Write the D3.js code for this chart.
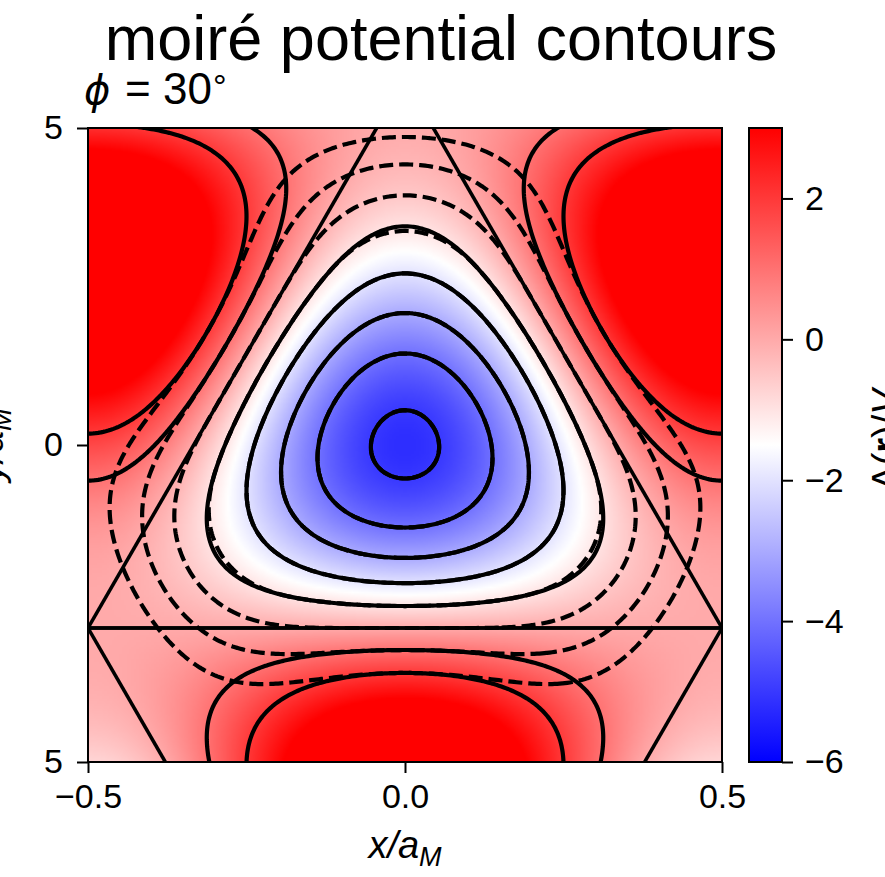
<!DOCTYPE html>
<html>
<head>
<meta charset="utf-8">
<script src="https://cdn.jsdelivr.net/npm/d3@7"></script>
<style>
body { margin: 0; background: #fff; }
svg { display: block; }
text { font-family: "Liberation Sans", Arial, sans-serif; fill: #000; }
</style>
</head>
<body>
<div id="chart"></div>
<script>
// moire potential, Delta(r) = -2V sum_j cos(G_j . r + phi), lattice constant a_M = 1
const phiDeg = 30
const V = 1
const gAngles = [90, 210, 330]
const solidLevels = [-5, -4, -3, -2, -1, 1, 2]
const dashedLevels = [-5, -4, -3, -2, -1, 0, 1, 2]
const colorDomain = [-6, 3]
const colorRange = ["#0000ff", "#ffffff", "#ff0000"]
const cbTicks = [-6, -4, -2, 0, 2]
const xTicks = [-0.5, 0, 0.5]
const yTicks = [-0.5, 0, 0.5]
// zero contour = lattice lines through the K corners
const kAnchors = [[-0.5, -0.5 / Math.sqrt(3)], [0.5, -0.5 / Math.sqrt(3)]]
const lineAngles = [0, 60, 120]
// dashed set: potential lifted away from the centre, towards the K corners
const liftScale = 60
const liftStart = 0.3

const W = 885, H = 877
const plot = { left: 88, right: 722, top: 128, bottom: 762 }
const cb = { left: 749, right: 782 }

const svg = d3.select("#chart")
    .append("svg")
    .attr("width", W)
    .attr("height", H)

const x = d3.scaleLinear().domain([-0.5, 0.5]).range([plot.left, plot.right])
const y = d3.scaleLinear().domain([-0.5, 0.5]).range([plot.bottom, plot.top])

const color = d3.scaleLinear()
    .domain([colorDomain[0], (colorDomain[0] + colorDomain[1]) / 2, colorDomain[1]])
    .range(colorRange)
    .clamp(true)

const gLen = 4 * Math.PI / Math.sqrt(3)
const phi = phiDeg * Math.PI / 180
const gVecs = gAngles.map(a => [gLen * Math.cos(a * Math.PI / 180), gLen * Math.sin(a * Math.PI / 180)])

function potential(px, py) {
    let s = 0
    gVecs.forEach(g => { s += Math.cos(g[0] * px + g[1] * py + phi) })
    return -2 * V * s
}

function lift(px, py) {
    const r = Math.sqrt(px * px + py * py)
    if (r <= liftStart) return 0
    const b = Math.atan2(py, px)
    return liftScale * (r - liftStart) * (r - liftStart) * (1 - Math.sin(3 * b)) / 2
}

// clip regions
const defs = svg.append("defs")
defs.append("clipPath").attr("id", "plotClip")
    .append("rect")
    .attr("x", plot.left).attr("y", plot.top)
    .attr("width", plot.right - plot.left).attr("height", plot.bottom - plot.top)
defs.append("clipPath").attr("id", "ytickClip")
    .append("rect")
    .attr("x", 45 - plot.left).attr("y", -60).attr("width", 60).attr("height", 120)

// heat map
const nImg = 256
const canvas = document.createElement("canvas")
canvas.width = nImg
canvas.height = nImg
const ctx = canvas.getContext("2d")
const img = ctx.createImageData(nImg, nImg)
for (let j = 0; j < nImg; j++) {
    for (let i = 0; i < nImg; i++) {
        const px = -0.5 + (i + 0.5) / nImg
        const py = 0.5 - (j + 0.5) / nImg
        const c = d3.rgb(color(potential(px, py)))
        const o = 4 * (j * nImg + i)
        img.data[o] = c.r
        img.data[o + 1] = c.g
        img.data[o + 2] = c.b
        img.data[o + 3] = 255
    }
}
ctx.putImageData(img, 0, 0)

svg.append("image")
    .attr("x", x(-0.5))
    .attr("y", y(0.5))
    .attr("width", x(0.5) - x(-0.5))
    .attr("height", y(-0.5) - y(0.5))
    .attr("preserveAspectRatio", "none")
    .attr("href", canvas.toDataURL())

// contour grids, a bit wider than the view so the border rings are clipped away
const N = 281, lo = -0.56, hi = 0.56
const step = (hi - lo) / (N - 1)
const solidGrid = new Float64Array(N * N)
const dashedGrid = new Float64Array(N * N)
for (let j = 0; j < N; j++) {
    for (let i = 0; i < N; i++) {
        const px = lo + i * step, py = hi - j * step
        const v = potential(px, py)
        solidGrid[j * N + i] = v
        dashedGrid[j * N + i] = v + lift(px, py)
    }
}

const toPx = d3.geoTransform({
    point: function (gx, gy) {
        this.stream.point(x(lo + (gx - 0.5) * step), y(hi - (gy - 0.5) * step))
    }
})
const path = d3.geoPath(toPx)
const contours = d3.contours().size([N, N])

const lines = svg.append("g").attr("clip-path", "url(#plotClip)")

lines.selectAll("path.solid")
    .data(contours.thresholds(solidLevels)(solidGrid))
    .enter().append("path")
    .attr("class", "solid")
    .attr("d", path)
    .attr("fill", "none")
    .attr("stroke", "#000")
    .attr("stroke-width", 4.2)
    .attr("stroke-linejoin", "round")

const latticeLines = []
kAnchors.forEach(k => {
    lineAngles.forEach(a => {
        const c = Math.cos(a * Math.PI / 180), s = Math.sin(a * Math.PI / 180)
        latticeLines.push([[k[0] - 2 * c, k[1] - 2 * s], [k[0] + 2 * c, k[1] + 2 * s]])
    })
})

lines.selectAll("line.lattice")
    .data(latticeLines)
    .enter().append("line")
    .attr("class", "lattice")
    .attr("x1", d => x(d[0][0]))
    .attr("y1", d => y(d[0][1]))
    .attr("x2", d => x(d[1][0]))
    .attr("y2", d => y(d[1][1]))
    .attr("stroke", "#000")
    .attr("stroke-width", 3.6)

lines.selectAll("path.dashed")
    .data(contours.thresholds(dashedLevels)(dashedGrid))
    .enter().append("path")
    .attr("class", "dashed")
    .attr("d", path)
    .attr("fill", "none")
    .attr("stroke", "#000")
    .attr("stroke-width", 4.2)
    .attr("stroke-dasharray", "14 6")

// frame and axes
svg.append("rect")
    .attr("x", plot.left).attr("y", plot.top)
    .attr("width", plot.right - plot.left).attr("height", plot.bottom - plot.top)
    .attr("fill", "none")
    .attr("stroke", "#000")
    .attr("stroke-width", 2)

const xAxis = svg.append("g")
    .attr("transform", `translate(0,${plot.bottom})`)
    .call(d3.axisBottom(x).tickValues(xTicks).tickFormat(d3.format(".1f")).tickSize(11).tickSizeOuter(0).tickPadding(11))
xAxis.select(".domain").remove()

const yAxis = svg.append("g")
    .attr("transform", `translate(${plot.left},0)`)
    .call(d3.axisLeft(y).tickValues(yTicks).tickFormat(d3.format(".1f")).tickSize(11).tickSizeOuter(0).tickPadding(14))
yAxis.select(".domain").remove()
yAxis.selectAll("text").attr("clip-path", "url(#ytickClip)")

svg.selectAll(".tick line").attr("stroke", "#000").attr("stroke-width", 2)
svg.selectAll(".tick text").style("font-size", "34px").style("font-family", "'Liberation Sans', Arial, sans-serif")

// colorbar
const cbScale = d3.scaleLinear().domain(colorDomain).range([plot.bottom, plot.top])
const grad = defs.append("linearGradient")
    .attr("id", "cbGrad")
    .attr("x1", 0).attr("y1", 1).attr("x2", 0).attr("y2", 0)
grad.selectAll("stop")
    .data(d3.range(0, 1.0001, 0.05))
    .enter().append("stop")
    .attr("offset", d => d)
    .attr("stop-color", d => color(colorDomain[0] + d * (colorDomain[1] - colorDomain[0])))

svg.append("rect")
    .attr("x", cb.left).attr("y", cbScale(colorDomain[1]))
    .attr("width", cb.right - cb.left)
    .attr("height", cbScale(colorDomain[0]) - cbScale(colorDomain[1]))
    .attr("fill", "url(#cbGrad)")
    .attr("stroke", "#000")
    .attr("stroke-width", 2)

const cbAxis = svg.append("g")
    .attr("transform", `translate(${cb.right},0)`)
    .call(d3.axisRight(cbScale).tickValues(cbTicks).tickFormat(d3.format("d")).tickSize(11).tickSizeOuter(0).tickPadding(12))
cbAxis.select(".domain").remove()
cbAxis.selectAll(".tick line").attr("stroke", "#000").attr("stroke-width", 2)
cbAxis.selectAll(".tick text").style("font-size", "34px").style("font-family", "'Liberation Sans', Arial, sans-serif")

// texts
svg.append("text")
    .attr("x", 441)
    .attr("y", 60)
    .attr("text-anchor", "middle")
    .style("font-size", "63px")
    .text("moiré potential contours")

const sub = svg.append("text")
    .attr("y", 104)
    .style("font-size", "44px")
sub.append("tspan").attr("x", 84).style("font-style", "italic").style("font-family", "'DejaVu Sans', sans-serif").style("font-size", "40px").text("ϕ")
sub.append("tspan").attr("x", 125).text("=")
sub.append("tspan").attr("x", 163).text("30")
sub.append("tspan").attr("x", 213).attr("dy", -6).style("font-size", "34px").text("°")

const xLabel = svg.append("text")
    .attr("x", x(0))
    .attr("y", 858)
    .attr("text-anchor", "middle")
    .style("font-size", "38px")
    .style("font-style", "italic")
xLabel.append("tspan").text("x/a")
xLabel.append("tspan").attr("dy", 8).style("font-size", "27px").text("M")

const yLabel = svg.append("text")
    .attr("transform", `translate(3,${y(0)}) rotate(-90)`)
    .attr("text-anchor", "middle")
    .style("font-size", "38px")
    .style("font-style", "italic")
yLabel.append("tspan").text("y/a")
yLabel.append("tspan").attr("dy", 8).style("font-size", "27px").text("M")

const cLabel = svg.append("text")
    .attr("transform", `translate(899,${y(0) - 5}) rotate(-90)`)
    .attr("text-anchor", "middle")
    .style("font-size", "38px")
cLabel.append("tspan").text("Δ(")
cLabel.append("tspan").style("font-weight", "bold").text("r")
cLabel.append("tspan").text(")/")
cLabel.append("tspan").style("font-style", "italic").text("V")
</script>
</body>
</html>
